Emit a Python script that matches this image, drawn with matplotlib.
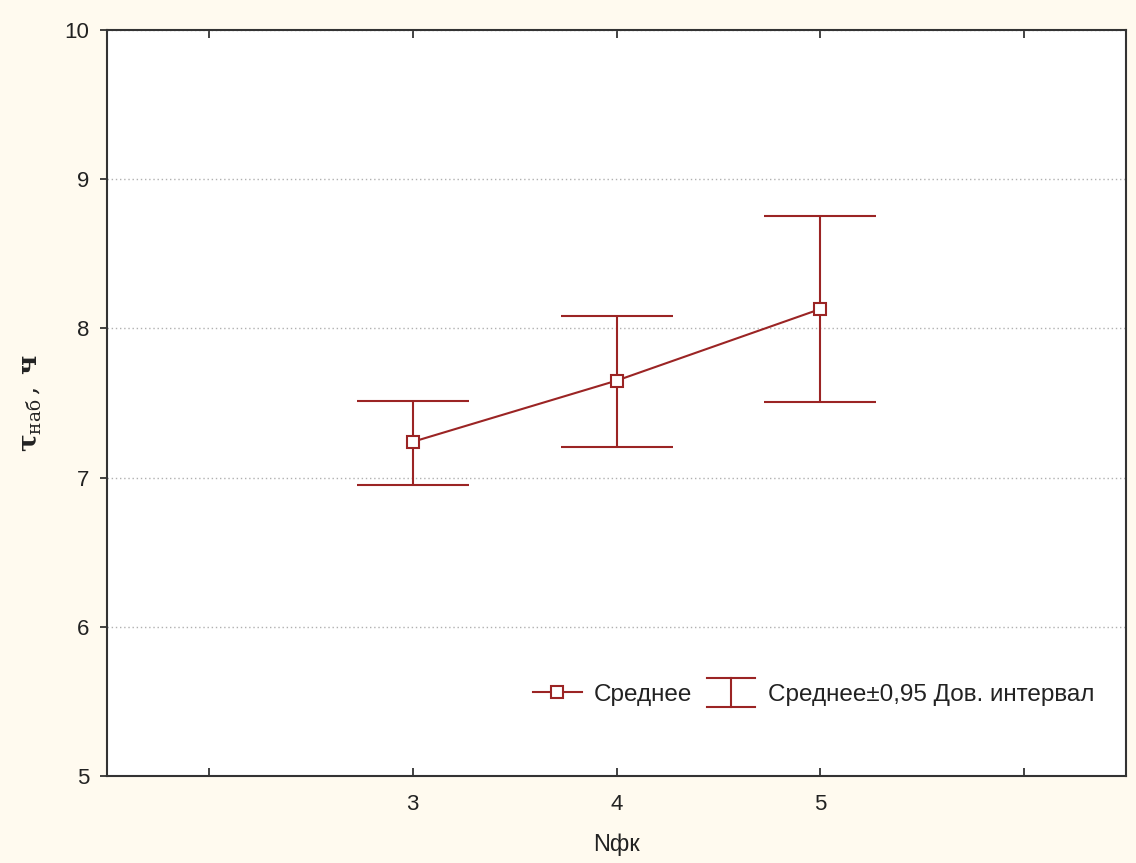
import matplotlib
matplotlib.use("Agg")
import matplotlib.pyplot as plt
from matplotlib.lines import Line2D
from matplotlib.legend_handler import HandlerBase

plt.rcParams['font.family'] = ['Liberation Sans', 'DejaVu Sans']
plt.rcParams['mathtext.fontset'] = 'dejavuserif'

# Data
n_fk = [3, 4, 5]
mean_vals = [7.24, 7.65, 8.13]
ci_low = [6.95, 7.205, 7.505]
ci_high = [7.515, 8.08, 8.755]

color = '#9B2424'
bg = '#FFFAEF'
txt = '#222222'

fig = plt.figure(figsize=(11.36, 8.63), dpi=100, facecolor=bg)
ax = fig.add_axes([0.0942, 0.1008, 0.8970, 0.8644])
ax.set_facecolor('white')

yerr = [[m - l for m, l in zip(mean_vals, ci_low)],
        [h - m for m, h in zip(mean_vals, ci_high)]]
ax.errorbar(n_fk, mean_vals, yerr=yerr, fmt='none', ecolor=color,
            elinewidth=1.5, capsize=40, capthick=1.5, zorder=2)
ax.plot(n_fk, mean_vals, color=color, lw=1.5, marker='s', markersize=9,
        markerfacecolor='white', markeredgecolor=color, markeredgewidth=1.5,
        zorder=3)

ax.set_xlim(1.5, 6.5)
ax.set_ylim(5, 10)
ax.set_xticks([2, 3, 4, 5, 6])
ax.set_xticklabels(['', '3', '4', '5', ''])
ax.set_yticks([5, 6, 7, 8, 9, 10])
ax.tick_params(axis='x', direction='in', top=True, length=6, width=1.2,
               labelsize=16, pad=13, colors=txt)
ax.tick_params(axis='y', direction='out', length=5, width=1.2,
               labelsize=16, pad=8, colors=txt)
ax.yaxis.grid(True, linestyle=(0, (1, 2)), color='#B0B0B0', lw=1)
for s in ax.spines.values():
    s.set_color('#333333')
    s.set_linewidth(1.5)

ax.set_xlabel('Nфк', fontsize=17, labelpad=13, color=txt)
fig.text(0.028, 0.533, r'$\mathbf{\tau}_{\mathrm{наб}}\,,\;\mathbf{ч}$',
         rotation=90, fontsize=19, ha='center', va='center', color=txt)


class HandlerCI(HandlerBase):
    def create_artists(self, legend, orig_handle, xdescent, ydescent,
                       width, height, fontsize, trans):
        cx = width / 2 - xdescent
        top = height * 1.35 - ydescent
        bot = -height * 0.35 - ydescent
        lines = [
            Line2D([cx, cx], [bot, top]),
            Line2D([cx - width / 2, cx + width / 2], [top, top]),
            Line2D([cx - width / 2, cx + width / 2], [bot, bot]),
        ]
        for ln in lines:
            ln.set_color(color)
            ln.set_linewidth(1.5)
            ln.set_transform(trans)
        return lines


mean_handle = Line2D([], [], color=color, lw=1.5, marker='s', markersize=8,
                     markerfacecolor='white', markeredgecolor=color,
                     markeredgewidth=1.5)
ci_handle = object()
leg = ax.legend([mean_handle, ci_handle],
                ['Среднее', 'Среднее±0,95 Дов. интервал'],
                handler_map={object: HandlerCI()},
                loc='lower right', bbox_to_anchor=(0.99, 0.065),
                ncol=2, frameon=False, fontsize=17.5, handlelength=2.0,
                handletextpad=0.5, columnspacing=0.6)
for t in leg.get_texts():
    t.set_color(txt)

fig.savefig('out.png', dpi=100, facecolor=bg)
